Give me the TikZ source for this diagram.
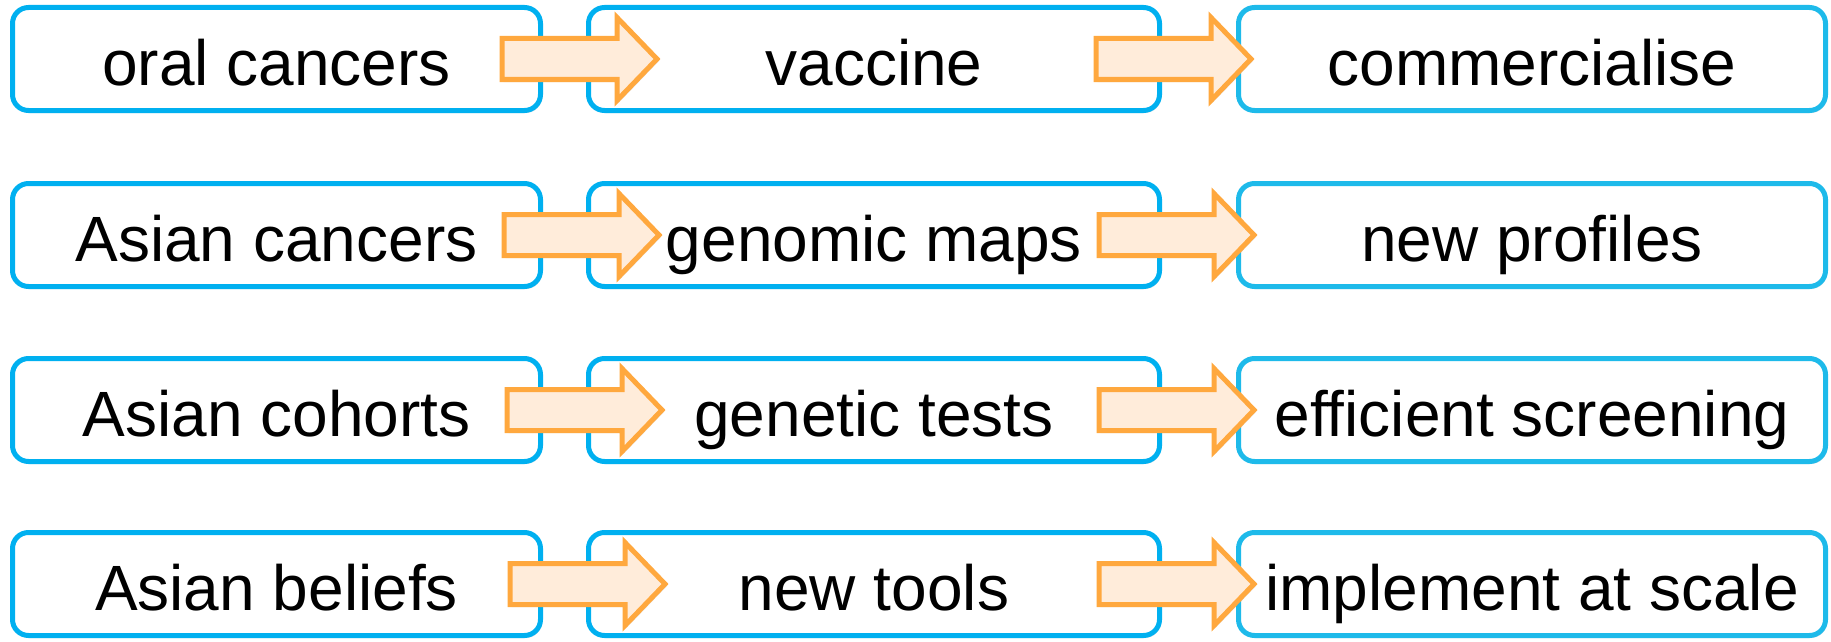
\documentclass[tikz,border=0pt]{standalone}
\usepackage{fontspec}
\setmainfont{Liberation Sans}
\usetikzlibrary{shadows}

\definecolor{boxblue}{RGB}{0,176,240}
\definecolor{boxcyan}{RGB}{30,186,234}
\definecolor{flowline}{RGB}{255,168,62}
\definecolor{flowfill}{RGB}{255,236,218}

\tikzset{
  stage/.style={draw=boxblue, line width=5pt, rounded corners=16pt, fill=white,
    minimum height=103pt, inner sep=0pt, text height=52pt, text depth=0pt,
    font=\fontsize{64}{77}\selectfont,
    drop shadow={opacity=0.18, shadow xshift=1.5pt, shadow yshift=-2.5pt}},
  colA/.style={stage, minimum width=528pt},
  colB/.style={stage, minimum width=571pt},
  colC/.style={stage, draw=boxcyan, minimum width=587pt},
  flowpath/.style={draw=flowline, fill=flowfill, line width=5pt, line join=miter,
    drop shadow={opacity=0.18, shadow xshift=1.5pt, shadow yshift=-2.5pt}},
  blockarrow/.pic={
    \path[flowpath] (0,-20.5) -- (115,-20.5) -- (115,-41.5) -- (155,0)
      -- (115,41.5) -- (115,20.5) -- (0,20.5) -- cycle;
  }
}

\begin{document}
\begin{tikzpicture}[x=1pt, y=-1pt]

  \useasboundingbox (0,0) rectangle (1831,642);

  \node[colA] (a1) at (276.5, 59) {oral cancers};
  \node[colB] (b1) at (874, 59) {vaccine};
  \node[colC] (c1) at (1532, 59) {commercialise};

  \node[colA] (a2) at (276.5, 235) {Asian cancers};
  \node[colB] (b2) at (874, 235) {genomic maps};
  \node[colC] (c2) at (1532, 235) {new profiles};

  \node[colA] (a3) at (276.5, 410) {Asian cohorts};
  \node[colB] (b3) at (874, 410) {genetic tests};
  \node[colC] (c3) at (1532, 410) {efficient screening};

  \node[colA] (a4) at (276.5, 584) {Asian beliefs};
  \node[colB] (b4) at (874, 584) {new tools};
  \node[colC] (c4) at (1532, 584) {implement at scale};

  \pic at ([xshift=-41pt]a1.east) {blockarrow};
  \pic at ([xshift=-66pt]b1.east) {blockarrow};
  \pic at ([xshift=-39pt]a2.east) {blockarrow};
  \pic at ([xshift=-63pt]b2.east) {blockarrow};
  \pic at ([xshift=-36pt]a3.east) {blockarrow};
  \pic at ([xshift=-63pt]b3.east) {blockarrow};
  \pic at ([xshift=-33pt]a4.east) {blockarrow};
  \pic at ([xshift=-63pt]b4.east) {blockarrow};

\end{tikzpicture}
\end{document}
